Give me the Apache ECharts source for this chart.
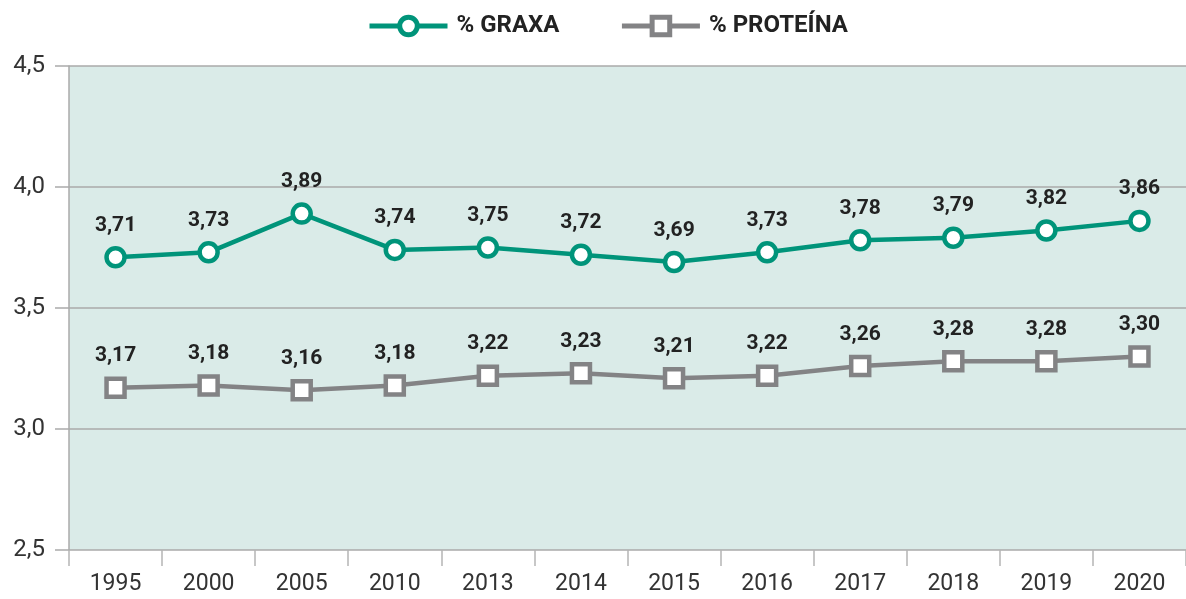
<!DOCTYPE html>
<html>
<head>
<meta charset="utf-8">
<script src="https://cdn.jsdelivr.net/npm/echarts@6/dist/echarts.min.js"></script>
<style>
  html, body { margin: 0; padding: 0; background: #fff; }
  #chart { width: 1186px; height: 599px; }
</style>
</head>
<body>
<div id="chart"></div>
<script>
var years = ["1995", "2000", "2005", "2010", "2013", "2014", "2015", "2016", "2017", "2018", "2019", "2020"];
var graxa = [3.71, 3.73, 3.89, 3.74, 3.75, 3.72, 3.69, 3.73, 3.78, 3.79, 3.82, 3.86];
var proteina = [3.17, 3.18, 3.16, 3.18, 3.22, 3.23, 3.21, 3.22, 3.26, 3.28, 3.28, 3.30];

var teal = "#00947a";
var grey = "#838385";

var fmt = function (v) { return v.toFixed(2).replace(".", ","); };
var labelStyle = {
  show: true,
  position: "top",
  distance: 10,
  fontFamily: "Roboto",
  fontWeight: "bold",
  fontSize: 21,
  color: "#222",
  formatter: function (p) { return fmt(p.value); }
};

var myChart = echarts.init(document.getElementById("chart"));
var option = {
  animation: false,
  legend: {
    top: 9,
    left: 362,
    itemGap: 60,
    itemWidth: 78,
    itemHeight: 22,
    textStyle: { fontFamily: "Roboto", fontWeight: "bold", fontSize: 24, color: "#222", padding: [0, 0, 0, 4] },
    data: [
      { name: "% GRAXA", itemStyle: { color: "#fff", borderColor: teal, borderWidth: 5 }, lineStyle: { color: teal, width: 5 } },
      { name: "% PROTEÍNA", itemStyle: { color: "#fff", borderColor: grey, borderWidth: 5 }, lineStyle: { color: grey, width: 5 } }
    ]
  },
  grid: {
    left: 69, right: 0, top: 66, bottom: 49,
    show: true, backgroundColor: "#daebe8", borderWidth: 0
  },
  xAxis: {
    type: "category",
    data: years,
    axisLine: { show: false },
    axisTick: { show: true, length: 16, lineStyle: { color: "#b5b5b5", width: 1.5 } },
    axisLabel: { fontFamily: "Roboto", fontSize: 23, color: "#333", margin: 23 }
  },
  yAxis: {
    type: "value",
    min: 2.5, max: 4.5, interval: 0.5,
    axisLine: { show: true, lineStyle: { color: "#aaa", width: 1.5 } },
    axisTick: { show: true, inside: false, length: 14, lineStyle: { color: "#aaa", width: 1.5 } },
    splitLine: { lineStyle: { color: "#aaa", width: 1.5 } },
    axisLabel: { fontFamily: "Roboto", fontSize: 24, color: "#333", margin: 24,
      formatter: function (v) { return v.toFixed(1).replace(".", ","); } }
  },
  series: [
    {
      name: "% GRAXA",
      type: "line",
      data: graxa,
      symbol: "circle",
      symbolSize: 18,
      lineStyle: { color: teal, width: 4.5 },
      itemStyle: { color: "#fff", borderColor: teal, borderWidth: 4.5 },
      label: labelStyle
    },
    {
      name: "% PROTEÍNA",
      type: "line",
      data: proteina,
      symbol: "rect",
      symbolSize: 18,
      lineStyle: { color: grey, width: 4.5 },
      itemStyle: { color: "#fff", borderColor: grey, borderWidth: 4.5 },
      label: labelStyle
    }
  ]
};
myChart.setOption(option);
</script>
</body>
</html>
